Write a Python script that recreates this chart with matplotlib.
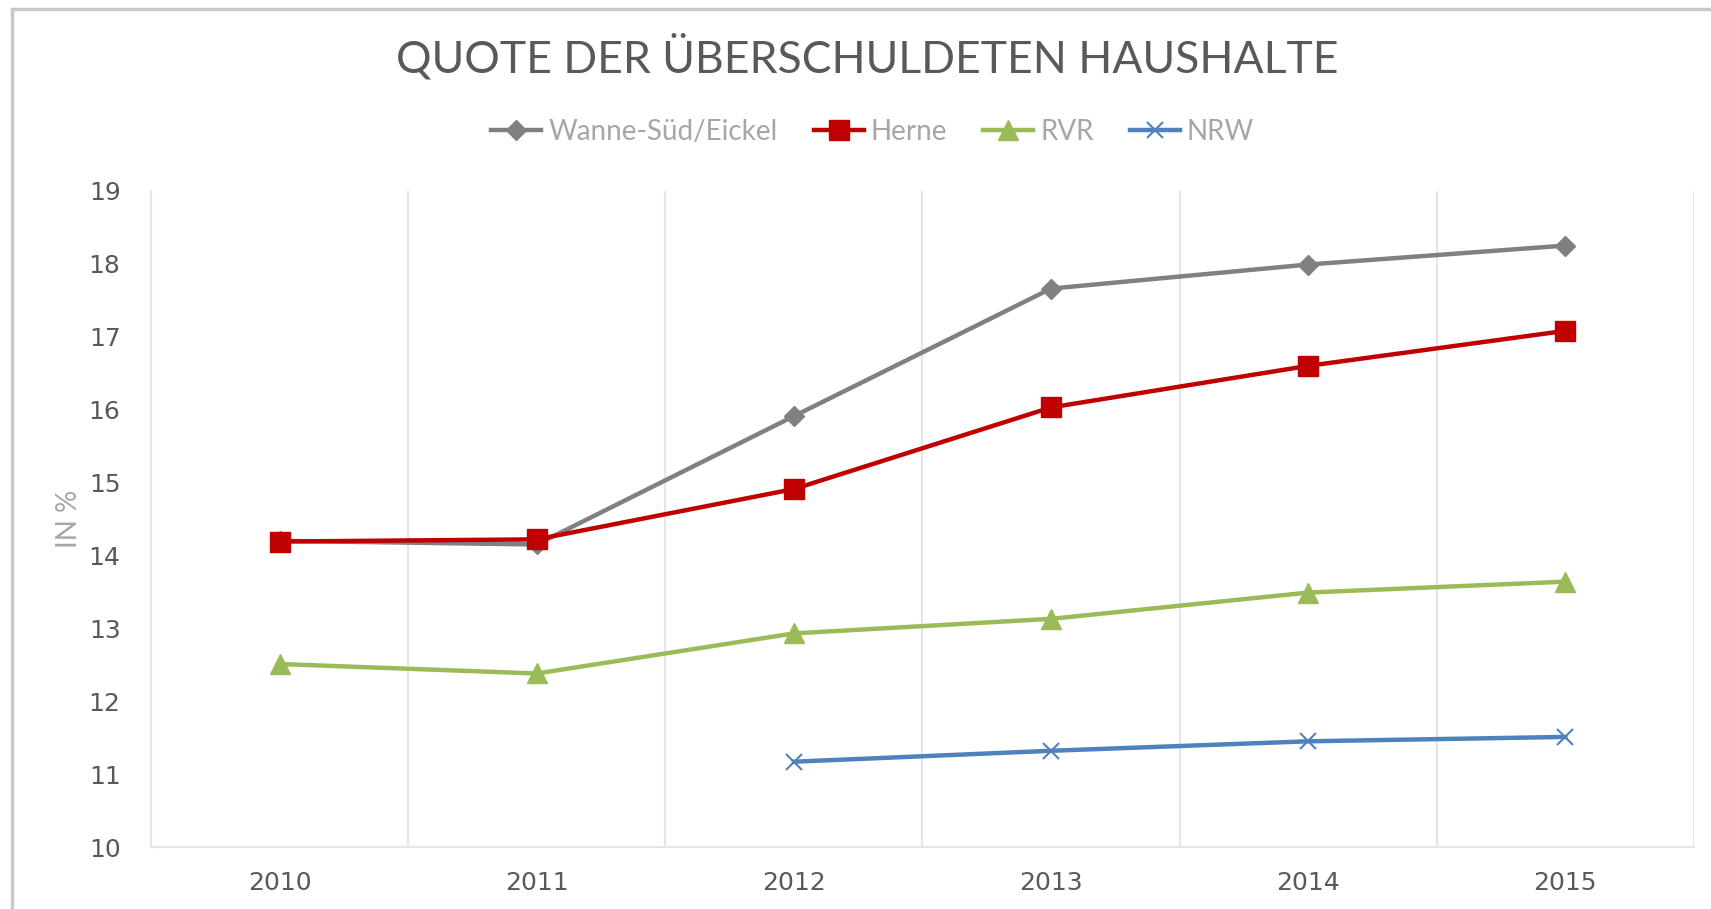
import matplotlib.pyplot as plt
from matplotlib.patches import Rectangle

years = ["2010", "2011", "2012", "2013", "2014", "2015"]
wanne = [14.20, 14.15, 15.91, 17.66, 17.99, 18.25]
herne = [14.19, 14.22, 14.91, 16.03, 16.60, 17.08]
rvr = [12.51, 12.38, 12.93, 13.13, 13.49, 13.64]
nrw_years = ["2012", "2013", "2014", "2015"]
nrw = [11.17, 11.32, 11.45, 11.51]

narrow = ['Lato', 'DejaVu Sans']

fig = plt.figure(figsize=(17.11, 9.09), dpi=100)
ax = fig.add_axes([0.0883, 0.0682, 0.9017, 0.7218])

x = list(range(len(years)))
xn = [years.index(y) for y in nrw_years]

ax.plot(x, wanne, color="#808080", lw=3.2, marker="D", ms=10, label="Wanne-Süd/Eickel")
ax.plot(x, herne, color="#C00000", lw=3.2, marker="s", ms=14, label="Herne")
ax.plot(x, rvr, color="#9BBB59", lw=3.2, marker="^", ms=14, label="RVR")
ax.plot(xn, nrw, color="#4F81BD", lw=3.2, marker="x", ms=12, mew=1.5, label="NRW")

ax.set_xlim(-0.5, 5.5)
ax.set_ylim(10, 19)
ax.set_yticks(range(10, 20))
ax.set_xticks(x)
ax.set_xticklabels(years)

# vertical grid between categories
ax.set_xticks([i + 0.5 for i in range(-1, 6)], minor=True)
ax.grid(True, axis="x", which="minor", color="#E6E6E6", lw=1.5)
ax.tick_params(which="both", length=0)
ax.tick_params(axis="y", labelsize=18, labelcolor="#595959", pad=22)
ax.tick_params(axis="x", which="major", labelsize=18, labelcolor="#595959", pad=17)

for s in ["top", "right"]:
    ax.spines[s].set_visible(False)
for s in ["left", "bottom"]:
    ax.spines[s].set_color("#E6E6E6")
    ax.spines[s].set_linewidth(1.5)

ax.set_ylabel("IN %", fontsize=20, color="#A6A6A6", family=narrow, labelpad=5)

fig.text(0.507, 0.937, "QUOTE DER ÜBERSCHULDETEN HAUSHALTE", ha="center", va="center",
         fontsize=32, color="#595959", family=narrow)

fig.legend(loc="center", bbox_to_anchor=(0.510, 0.855), ncol=4, frameon=False,
           prop={"family": narrow, "size": 20}, labelcolor="#A6A6A6",
           handlelength=1.8, handletextpad=0.25, columnspacing=1.3)

fig.patches.append(Rectangle((0.0070, -0.1), 1.2, 1.09, transform=fig.transFigure,
                             fill=False, edgecolor="#C8C8C8", lw=2.5))

fig.savefig("out.png", dpi=100)
